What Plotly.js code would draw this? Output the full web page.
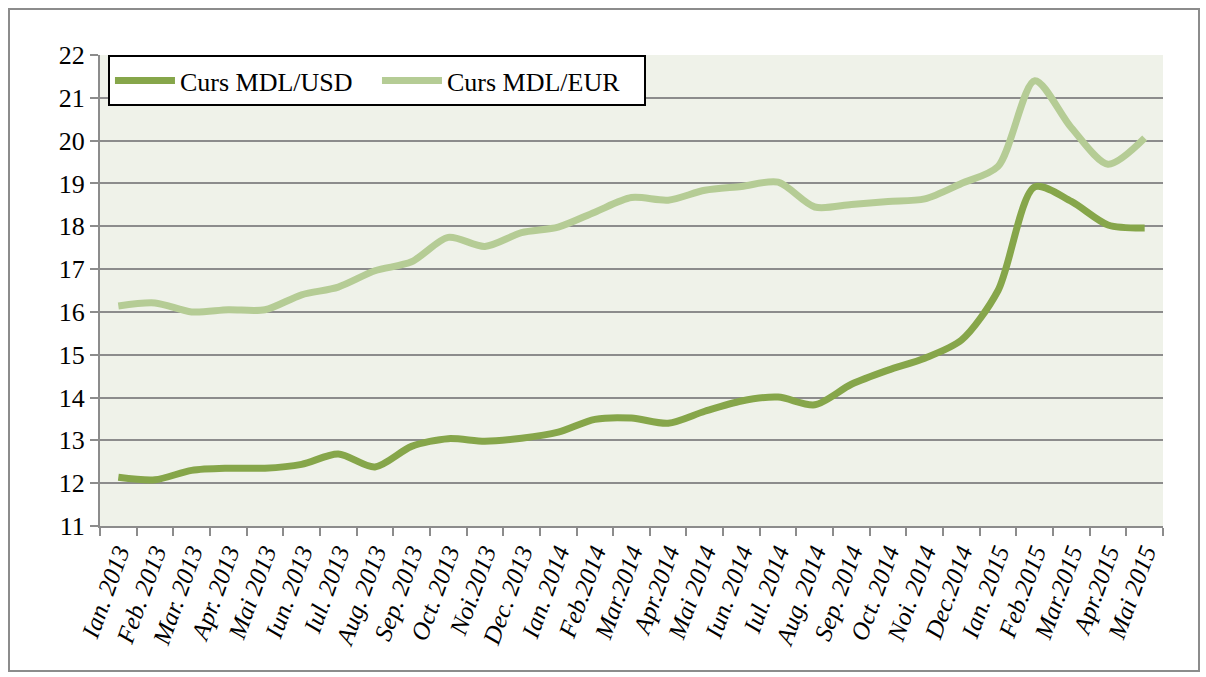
<!DOCTYPE html>
<html>
<head>
<meta charset="utf-8">
<script src="https://cdn.plot.ly/plotly-3.0.1.min.js"></script>
<style>
html,body{margin:0;padding:0;background:#fff;}
#frame{position:absolute;left:8px;top:8px;width:1188px;height:660px;border:2px solid #8c8c8c;}
#chart{position:absolute;left:0;top:0;width:1206px;height:677px;}
</style>
</head>
<body>
<div id="frame"></div>
<div id="chart"></div>
<script>
const months = ["Ian. 2013","Feb. 2013","Mar. 2013","Apr. 2013","Mai 2013","Iun. 2013","Iul. 2013","Aug. 2013","Sep. 2013","Oct. 2013","Noi.2013","Dec. 2013","Ian. 2014","Feb.2014","Mar.2014","Apr.2014","Mai 2014","Iun. 2014","Iul. 2014","Aug. 2014","Sep. 2014","Oct. 2014","Noi. 2014","Dec.2014","Ian. 2015","Feb.2015","Mar.2015","Apr.2015","Mai 2015"];
const usd = [12.14,12.08,12.30,12.35,12.35,12.44,12.68,12.38,12.86,13.04,12.98,13.05,13.19,13.49,13.52,13.40,13.68,13.92,14.01,13.83,14.31,14.64,14.92,15.34,16.50,18.92,18.58,18.03,17.96];
const eur = [16.14,16.21,16.00,16.05,16.05,16.40,16.58,16.96,17.17,17.74,17.53,17.85,17.98,18.33,18.67,18.61,18.84,18.93,19.03,18.45,18.51,18.58,18.64,19.00,19.40,21.40,20.30,19.45,20.06];

const traces = [
  {x: months, y: usd, name: "Curs MDL/USD", type: "scatter", mode: "lines",
   line: {color: "#86a64a", width: 7, shape: "spline", smoothing: 0.8}},
  {x: months, y: eur, name: "Curs MDL/EUR", type: "scatter", mode: "lines",
   line: {color: "#b5cc95", width: 7, shape: "spline", smoothing: 0.8}}
];

const layout = {
  width: 1206, height: 677,
  margin: {l: 100, r: 43, t: 55, b: 151},
  paper_bgcolor: "rgba(0,0,0,0)",
  plot_bgcolor: "#eff2e9",
  showlegend: true,
  legend: {
    orientation: "h", x: 0.0075, y: 1, xanchor: "left", yanchor: "top",
    bgcolor: "#ffffff", bordercolor: "#000000", borderwidth: 2,
    font: {family: "Liberation Serif, serif", size: 26, color: "#000"},
    itemwidth: 60, tracegroupgap: 0,
    entrywidth: 192, entrywidthmode: "pixels"
  },
  xaxis: {
    type: "category", tickson: "boundaries", ticks: "outside", ticklen: 8,
    tickcolor: "#8c8c8c", tickwidth: 2,
    showline: true, linecolor: "#8c8c8c", linewidth: 2,
    showgrid: false, tickangle: -70,
    tickfont: {family: "Liberation Serif, serif", size: 25, color: "#000", style: "italic"},
    range: [-0.5, 28.5], fixedrange: true
  },
  yaxis: {
    range: [11, 22], dtick: 1, tick0: 11, ticks: "outside", ticklen: 8,
    tickcolor: "#8c8c8c", tickwidth: 2,
    showline: true, linecolor: "#8c8c8c", linewidth: 2,
    showgrid: true, gridcolor: "#8c8c8c", gridwidth: 2,
    zeroline: false,
    tickfont: {family: "Liberation Serif, serif", size: 26, color: "#000"},
    fixedrange: true
  }
};

Plotly.newPlot("chart", traces, layout, {displayModeBar: false, staticPlot: true});
</script>
</body>
</html>
